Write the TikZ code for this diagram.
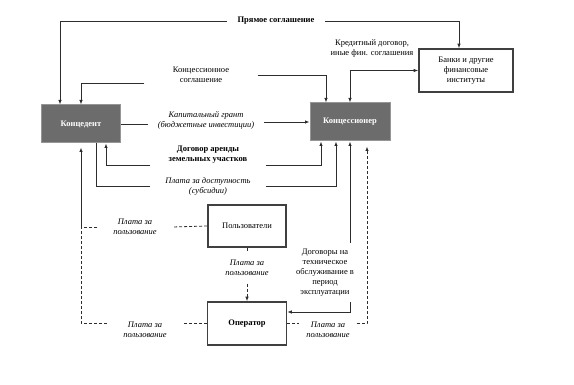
\documentclass[tikz,border=0pt]{standalone}
\usepackage{fontspec}
\setmainfont{Liberation Serif}
\usetikzlibrary{arrows.meta,calc}
\definecolor{BoxGray}{RGB}{108,108,108}
\definecolor{EdgeGray}{RGB}{150,150,150}
\definecolor{LineGray}{RGB}{45,45,45}

\begin{document}
\begin{tikzpicture}[x=1pt,y=-1pt,
  >={Latex[length=4.5pt,width=3.5pt]},
  party/.style={draw=EdgeGray,fill=BoxGray,line width=1pt,text=white,
                font=\fontsize{8.5}{10}\selectfont\bfseries,inner sep=2pt},
  outbox/.style={draw=black!75,fill=white,line width=1.6pt,align=center,
                 font=\fontsize{8.5}{10}\selectfont,inner sep=2pt},
  lbl/.style={align=center,font=\fontsize{8.5}{10}\selectfont,inner sep=0pt},
  note/.style={lbl,font=\fontsize{8.5}{10}\selectfont\itshape},
  flow/.style={draw=LineGray,line width=0.8pt},
  paid/.style={flow,dash pattern=on 3pt off 2pt},
]
\useasboundingbox (0,0) rectangle (574,385);
% parties
\node[party,minimum width=79pt,minimum height=38pt] (kd) at (81,124) {Концедент};
\node[party,minimum width=80pt,minimum height=38pt] (ks) at (350,122) {Концессионер};
\node[outbox,minimum width=94pt,minimum height=43pt] (bank) at (466,70.5)
  {Банки и другие\\финансовые\\институты};
\node[outbox,minimum width=78pt,minimum height=42pt] (users) at (247,226) {Пользователи};
\node[outbox,font=\fontsize{8.5}{10}\selectfont\bfseries,
      minimum width=79pt,minimum height=43pt] (oper) at (247,323.5) {Оператор};

% labels
\node[lbl,font=\fontsize{8.5}{10}\selectfont\bfseries,minimum width=98pt] (direct)
  at (276,21) {Прямое соглашение};
\node[lbl,minimum width=113pt] (conc) at (201,75) {Концессионное\\соглашение};
\node[lbl] (credit) at (372,48) {Кредитный договор,\\иные фин. соглашения};
\node[note,minimum width=116pt] (grant) at (206,120)
  {Капитальный грант\\(бюджетные инвестиции)};
\node[lbl,font=\fontsize{8.5}{10}\selectfont\bfseries,minimum width=116pt] (land)
  at (208,155) {Договор аренды\\земельных участков};
\node[note,minimum width=116pt] (avail) at (208,186) {Плата за доступность\\(субсидии)};
\node[note,minimum width=75pt] (upay1) at (135,227) {Плата за\\пользование};
\node[note,minimum height=31pt] (upay2) at (247,268) {Плата за\\пользование};
\node[note,minimum width=76pt] (upay3) at (145,330) {Плата за\\пользование};
\node[note,minimum width=57pt] (upay4) at (328,330) {Плата за\\пользование};
\node[lbl,minimum height=59pt] (service) at (325,272.5)
  {Договоры на\\техническое\\обслуживание в\\период\\эксплуатации};

% direct agreement
\draw[flow,->] (direct.west) -| ([xshift=-21pt]kd.north);
\draw[flow,->] (direct.east) -| ([xshift=-7pt]bank.north);
% concession agreement
\draw[flow,->] ([yshift=-8pt]conc.west) -| (kd.north);
\draw[flow,->] (conc.east) -| ([xshift=-24pt]ks.north);
% credit
\draw[flow,<->] (ks.north) |- (bank.west);
% capital grant
\draw[flow] (kd.east) -- (kd.east -| grant.west);
\draw[flow,->] (ks.west -| grant.east) -- (ks.west);
% land lease
\draw[flow,->] ([yshift=-10pt]land.west) -| ([xshift=25pt]kd.south);
\draw[flow,->] ([yshift=-10pt]land.east) -| ([xshift=-29pt]ks.south);
% availability payment
\draw[flow] ([xshift=15pt]kd.south) |- (avail.west);
\draw[flow,->] (avail.east) -| ([xshift=-14pt]ks.south);
% user fees to the grantor
\draw[paid] (users.west) -- (upay1.east);
\draw[paid] (upay1.west) -- (upay1.west -| kd.south);
\draw[flow,->,shorten >=4pt] (upay1.west -| kd.south) -- (kd.south);
\draw[paid] (oper.west) -- (oper.west -| upay3.east);
\draw[paid] (oper.west -| upay3.west) -| (upay1.west -| kd.south);
% users -> operator
\draw[paid] (users.south) -- (upay2.north);
\draw[paid,->] (upay2.south) -- (oper.north);
% maintenance contracts
\draw[flow,->] (service.north -| ks.south) -- (ks.south);
\draw[flow,->] (service.south -| ks.south) |- ([yshift=11.5pt]oper.east);
% operator -> concessionaire
\draw[paid] (oper.east) -- (oper.east -| upay4.west);
\draw[paid,->,shorten >=5pt] (oper.east -| upay4.east) -| ([xshift=17pt]ks.south);
\end{tikzpicture}
\end{document}
